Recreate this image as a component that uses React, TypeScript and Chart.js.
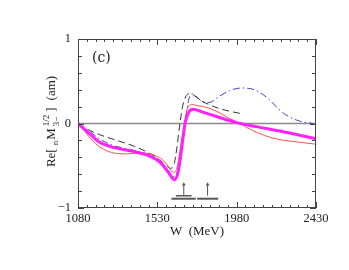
import React, { useEffect, useRef } from "react";
import { Chart, registerables } from "chart.js";
Chart.register(...registerables);

const X_TICKS = [1080, 1530, 1980, 2430];
const Y_TICKS = [-1, 0, 1];
const X_MINOR_STEP = 50;
const Y_MINOR_STEP = 0.2;

const W_MAG = [1080, 1110, 1150, 1200, 1260, 1320, 1400, 1460, 1520, 1560, 1600, 1627, 1645, 1660, 1675, 1690, 1710, 1735, 1780, 1870, 1980, 2100, 2250, 2430];
const MAG = [0, -0.055, -0.13, -0.22, -0.27, -0.3, -0.335, -0.365, -0.42, -0.49, -0.6, -0.665, -0.6, -0.42, -0.18, 0.03, 0.14, 0.17, 0.14, 0.08, 0.01, -0.04, -0.1, -0.18];

const W_RED = [1080, 1110, 1140, 1180, 1240, 1300, 1360, 1420, 1480, 1530, 1570, 1600, 1620, 1640, 1660, 1680, 1700, 1725, 1760, 1810, 1870, 1930, 1980, 2040, 2100, 2180, 2250, 2330, 2430];
const RED = [0, -0.07, -0.15, -0.24, -0.32, -0.355, -0.36, -0.35, -0.355, -0.39, -0.45, -0.53, -0.58, -0.53, -0.3, -0.04, 0.17, 0.225, 0.21, 0.19, 0.14, 0.07, 0.02, -0.05, -0.11, -0.17, -0.2, -0.22, -0.245];

const W_DASH = [1080, 1130, 1200, 1300, 1400, 1500, 1560, 1605, 1625, 1640, 1655, 1675, 1695, 1715, 1740, 1780, 1850, 1920, 2010];
const DASH = [0, -0.065, -0.13, -0.2, -0.27, -0.37, -0.46, -0.53, -0.48, -0.3, -0.05, 0.22, 0.33, 0.355, 0.33, 0.27, 0.2, 0.155, 0.115];

const W_BLUE = [1080, 1110, 1150, 1200, 1280, 1360, 1440, 1500, 1550, 1590, 1625, 1650, 1670, 1690, 1710, 1730, 1760, 1800, 1830, 1880, 1940, 2010, 2080, 2150, 2240, 2320, 2380, 2415];
const BLUE = [0, -0.05, -0.1, -0.18, -0.26, -0.3, -0.34, -0.38, -0.45, -0.55, -0.63, -0.52, -0.25, 0.05, 0.3, 0.35, 0.3, 0.245, 0.25, 0.32, 0.39, 0.42, 0.4, 0.31, 0.13, 0.04, 0.01, 0];

const RES_W = [1680, 1815];
const RES_TOP = -0.72;
const RES_BASE = -0.855;
const BAR_SHORT_W = [1635, 1724];
const BAR_SHORT_Y = -0.855;
const BAR_LONG1_W = [1610, 1748];
const BAR_LONG2_W = [1756, 1875];
const BAR_LONG_Y = -0.89;

const toXY = (xs: number[], ys: number[]) => xs.map((x, i) => ({ x, y: ys[i] }));
const fmtY = (v: number) => (v < 0 ? "−" + Math.abs(v) : String(v));

const framePlugin = {
  id: "frame",
  afterDatasetsDraw(chart: any) {
    const { ctx, chartArea: a, scales } = chart;
    const xs = scales.x;
    const ys = scales.y;
    ctx.save();
    ctx.strokeStyle = "#444";
    ctx.lineWidth = 1;
    ctx.strokeRect(a.left + 0.5, a.top + 0.5, a.right - a.left - 1, a.bottom - a.top - 1);
    ctx.beginPath();
    for (let v = X_TICKS[0]; v <= X_TICKS[X_TICKS.length - 1] + 0.001; v += X_MINOR_STEP) {
      const px = Math.round(xs.getPixelForValue(v)) + 0.5;
      const major = X_TICKS.some((t) => Math.abs(t - v) < 0.01);
      const len = major ? 6 : 3;
      ctx.moveTo(px, a.bottom);
      ctx.lineTo(px, a.bottom - len);
      ctx.moveTo(px, a.top);
      ctx.lineTo(px, a.top + len);
    }
    for (let v = -1; v <= 1.0001; v += Y_MINOR_STEP) {
      const py = Math.round(ys.getPixelForValue(v)) + 0.5;
      const major = Y_TICKS.some((t) => Math.abs(t - v) < 0.01);
      const len = major ? 6 : 4;
      ctx.moveTo(a.left, py);
      ctx.lineTo(a.left + len, py);
      ctx.moveTo(a.right, py);
      ctx.lineTo(a.right - len, py);
    }
    ctx.stroke();

    // tick labels
    ctx.fillStyle = "#222";
    ctx.font = "12.5px 'Liberation Serif'";
    ctx.textBaseline = "middle";
    ctx.textAlign = "center";
    for (const t of X_TICKS) ctx.fillText(String(t), xs.getPixelForValue(t), a.bottom + 11);
    ctx.textAlign = "right";
    for (const t of Y_TICKS) ctx.fillText(fmtY(t), a.left - 7, ys.getPixelForValue(t));

    // panel label
    ctx.font = "14px 'DejaVu Serif'";
    ctx.textAlign = "left";
    ctx.fillText("(c)", a.left + 14, a.top + 19);

    // x title
    ctx.font = "13px 'Liberation Serif'";
    ctx.textAlign = "center";
    ctx.fillText("W  (MeV)", (a.left + a.right) / 2, a.bottom + 24);

    // y title (rotated, with sub/superscripts)
    const big = "13px 'Liberation Serif'";
    const small = "9px 'Liberation Serif'";
    type Piece = { t: string; f: string; dy: number; gap: number };
    const pieces: Piece[] = [
      { t: "Re[", f: big, dy: 0, gap: 3 },
      { t: "n", f: small, dy: 3, gap: 1 },
      { t: "M", f: big, dy: 0, gap: 2 },
    ];
    ctx.font = small;
    const stackW = Math.max(ctx.measureText("3−").width, ctx.measureText("1/2").width);
    let total = 0;
    for (const p of pieces) {
      ctx.font = p.f;
      total += ctx.measureText(p.t).width + p.gap;
    }
    total += stackW + 3;
    ctx.font = big;
    total += ctx.measureText("]").width + 7 + ctx.measureText("(am)").width;

    ctx.translate(a.left - 23, (a.top + a.bottom) / 2 - 2);
    ctx.rotate(-Math.PI / 2);
    ctx.textAlign = "left";
    ctx.textBaseline = "alphabetic";
    let cx = -total / 2;
    for (const p of pieces) {
      ctx.font = p.f;
      ctx.fillText(p.t, cx, p.dy);
      cx += ctx.measureText(p.t).width + p.gap;
    }
    ctx.font = small;
    ctx.fillText("3−", cx, 4);
    ctx.fillText("1/2", cx, -6);
    cx += stackW + 3;
    ctx.font = big;
    ctx.fillText("]", cx, 0);
    cx += ctx.measureText("]").width + 7;
    ctx.fillText("(am)", cx, 0);
    ctx.restore();
  },
};

export default function App() {
  const ref = useRef<HTMLCanvasElement | null>(null);
  useEffect(() => {
    if (!ref.current) return;
    const gray = "#555";
    const straight = { tension: 0, cubicInterpolationMode: "default" };
    const datasets: any[] = [
      { data: toXY(W_MAG, MAG), borderColor: "#ff22ff", borderWidth: 3, order: 1 },
      { data: toXY(W_RED, RED), borderColor: "#ff5050", borderWidth: 1, order: 2 },
      { data: toXY(W_DASH, DASH), borderColor: "#333", borderWidth: 1, borderDash: [7, 4], order: 3 },
      { data: toXY(W_BLUE, BLUE), borderColor: "#3f3fd0", borderWidth: 1, borderDash: [7, 3, 1.5, 3], order: 4 },
      { data: [{ x: X_TICKS[0], y: 0 }, { x: X_TICKS[X_TICKS.length - 1], y: 0 }], borderColor: "#8a8a8a", borderWidth: 1.5, order: 10, ...straight },
      ...RES_W.map((w) => ({
        data: [{ x: w, y: RES_BASE }, { x: w, y: RES_TOP }],
        borderColor: gray, borderWidth: 1, ...straight,
        pointRadius: [0, 2.2], pointStyle: "triangle", pointBackgroundColor: gray, pointBorderColor: gray, pointBorderWidth: 0, order: 5,
      })),
      { data: BAR_SHORT_W.map((w) => ({ x: w, y: BAR_SHORT_Y })), borderColor: gray, borderWidth: 1.5, order: 5, ...straight },
      { data: BAR_LONG1_W.map((w) => ({ x: w, y: BAR_LONG_Y })), borderColor: gray, borderWidth: 2, order: 5, ...straight },
      { data: BAR_LONG2_W.map((w) => ({ x: w, y: BAR_LONG_Y })), borderColor: gray, borderWidth: 2, order: 5, ...straight },
    ];
    const chart = new Chart(ref.current, {
      type: "line",
      data: { datasets },
      options: {
        animation: false,
        responsive: false,
        layout: { padding: { top: 39, right: 33, left: 0, bottom: 0 } },
        plugins: { legend: { display: false }, tooltip: { enabled: false } },
        elements: {
          point: { radius: 0 },
          line: { cubicInterpolationMode: "monotone", fill: false },
        },
        scales: {
          x: {
            type: "linear",
            min: X_TICKS[0],
            max: X_TICKS[X_TICKS.length - 1],
            afterBuildTicks: (s: any) => { s.ticks = X_TICKS.map((v) => ({ value: v })); },
            grid: { display: false },
            border: { display: false },
            ticks: { display: false },
            afterFit: (s: any) => { s.height = 62; },
          },
          y: {
            type: "linear",
            min: -1,
            max: 1,
            afterBuildTicks: (s: any) => { s.ticks = Y_TICKS.map((v) => ({ value: v })); },
            grid: { display: false },
            border: { display: false },
            ticks: { display: false },
            afterFit: (s: any) => { s.width = 78; },
          },
        },
      } as any,
      plugins: [framePlugin],
    });
    return () => chart.destroy();
  }, []);
  return (
    <div style={{ position: "absolute", left: 0, top: 0, width: 349, height: 270, background: "#fff" }}>
      <canvas ref={ref} width={349} height={270} />
    </div>
  );
}
